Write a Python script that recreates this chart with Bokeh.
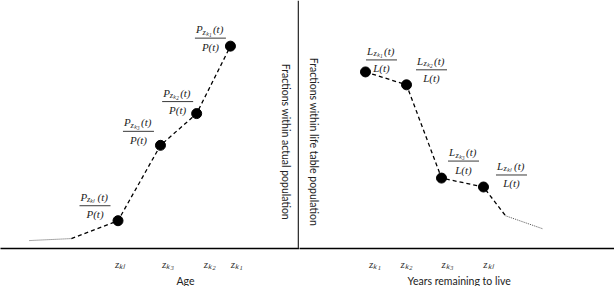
import numpy as np
from bokeh.plotting import figure
from bokeh.models import ColumnDataSource, Range1d, FixedTicker, Span, Label, Title
from bokeh.layouts import row
from bokeh.embed import file_html
from bokeh.resources import INLINE
from bokeh.core.properties import value

# ---------------- data ----------------
# Left panel: fractions within actual population, by age
age_pts = [39.3, 53.5, 65.6, 76.9]
pop_frac = [0.112, 0.416, 0.544, 0.816]
age_subs = ["zₖₗ", "zₖ₃", "zₖ₂", "zₖ₁"]
age_tail_x = [9.7, 23.7]          # dotted lead-in
age_tail_y = [0.032, 0.040]
age_ticks = [40, 56, 70, 79]
age_tick_labels = ["zₖₗ", "zₖ₃", "zₖ₂", "zₖ₁"]

# Right panel: fractions within life table population, by years remaining to live
yrl_pts = [20.95, 33.97, 45.08, 58.41]
lt_frac = [0.712, 0.660, 0.284, 0.248]
yrl_subs = ["zₖ₁", "zₖ₂", "zₖ₃", "zₖₗ"]
yrl_tail_x = [65.4, 77.1]          # dashed then dotted tail
yrl_tail_y = [0.132, 0.080]
yrl_ticks = [24, 34, 47, 60]
yrl_tick_labels = ["zₖ₁", "zₖ₂", "zₖ₃", "zₖₗ"]

# ---------------- style ----------------
FH = 248
W_L, W_R = 299, 315
SERIF = "Liberation Serif"
SANS = "Lato"
# label placement relative to each point (pixels; dx right, dy up)
left_dx, left_dy = [-23, -22, -19, -20], [15, 14, 12, 8]
right_dx, right_dy = [16, 25, 22, 28], [12, 15, 17, 12]


def make_panel(width, xs, ys, letter, subs, dx, dy, ticks, tick_labels,
               title, title_left, ylabel, ylab_x, ylab_xoff):
    p = figure(frame_width=width, frame_height=FH, x_range=Range1d(0, 100),
               y_range=Range1d(0, 1), output_backend="svg", toolbar_location=None,
               y_axis_location=None, min_border=0)
    p.grid.visible = False
    p.outline_line_color = None
    p.background_fill_color = "white"
    p.border_fill_color = "white"

    ax = p.xaxis[0]
    ax.ticker = FixedTicker(ticks=ticks)
    ax.major_label_overrides = {t: l for t, l in zip(ticks, tick_labels)}
    ax.major_tick_line_color = None
    ax.minor_tick_line_color = None
    ax.axis_line_width = 1.6
    ax.axis_line_color = "black"
    ax.major_label_standoff = 3
    ax.major_label_text_font = SERIF
    ax.major_label_text_font_style = "italic"
    ax.major_label_text_font_size = "11px"
    ax.major_label_text_color = "#333333"

    t = Title(text=title, align="left", offset=title_left, standoff=0,
              text_font=SANS, text_font_size="10.5px", text_font_style="normal",
              text_color="#222222")
    p.add_layout(t, "below")

    ux = 100.0 / width
    uy = 1.0 / FH
    xs = np.array(xs)
    ys = np.array(ys)
    cx = xs + np.array(dx) * ux
    by = ys + np.array(dy) * uy
    src = ColumnDataSource(dict(
        cx=cx, by=by, num_y=by + 9 * uy, sub_y=by + 6.5 * uy, den_y=by - 8.5 * uy,
        main=[letter] * len(xs), sub=subs, par=["(t)"] * len(xs),
        den=[letter + "(t)"] * len(xs)))

    common = dict(text_font=value(SERIF), text_font_style="italic",
                  text_color="#222222", text_baseline="middle")
    p.text(x="cx", y="num_y", text="main", x_offset=-14.5, text_align="left",
           text_font_size="11px", source=src, **common)
    p.text(x="cx", y="sub_y", text="sub", x_offset=-8, text_align="left",
           text_font_size="8.5px", source=src, **common)
    p.text(x="cx", y="num_y", text="par", x_offset=2.5, text_align="left",
           text_font_size="11px", source=src, **common)
    p.text(x="cx", y="den_y", text="den", text_align="center",
           text_font_size="11px", source=src, **common)
    p.scatter(x="cx", y="by", marker="dash", size=31, line_color="#222222",
              line_width=0.9, source=src)

    lab = Label(x=ylab_x, y=0.43, x_offset=ylab_xoff, text=ylabel, angle=-np.pi / 2,
                text_align="center", text_baseline="middle", text_font=SANS,
                text_font_size="10.5px", text_color="#222222")
    p.add_layout(lab)
    return p


left = make_panel(W_L, age_pts, pop_frac, "P", age_subs, left_dx, left_dy,
                  age_ticks, age_tick_labels, "Age", 176,
                  "Fractions within actual population", 100, -14)
# lead-in: dotted then dashed through the points
left.line(age_tail_x, age_tail_y, line_dash="1 1", line_width=1, line_color="#555555")
left.line(age_tail_x[-1:] + age_pts, age_tail_y[-1:] + pop_frac, line_dash="4 3",
          line_width=1.3, line_color="black")
left.scatter(age_pts, pop_frac, size=10, color="black")
left.add_layout(Span(location=99.67, dimension="height", line_color="#333333",
                     line_width=1.6))

right = make_panel(W_R, yrl_pts, lt_frac, "L", yrl_subs, right_dx, right_dy,
                   yrl_ticks, yrl_tick_labels, "Years remaining to live", 108,
                   "Fractions within life table population", 0, 14)
right.line(yrl_pts + yrl_tail_x[:1], lt_frac + yrl_tail_y[:1], line_dash="4 3",
           line_width=1.3, line_color="black")
right.line(yrl_tail_x, yrl_tail_y, line_dash="1 1", line_width=1, line_color="#555555")
right.scatter(yrl_pts, lt_frac, size=10, color="black")

layout = row(left, right)
open("out.html", "w").write(file_html(layout, INLINE))
